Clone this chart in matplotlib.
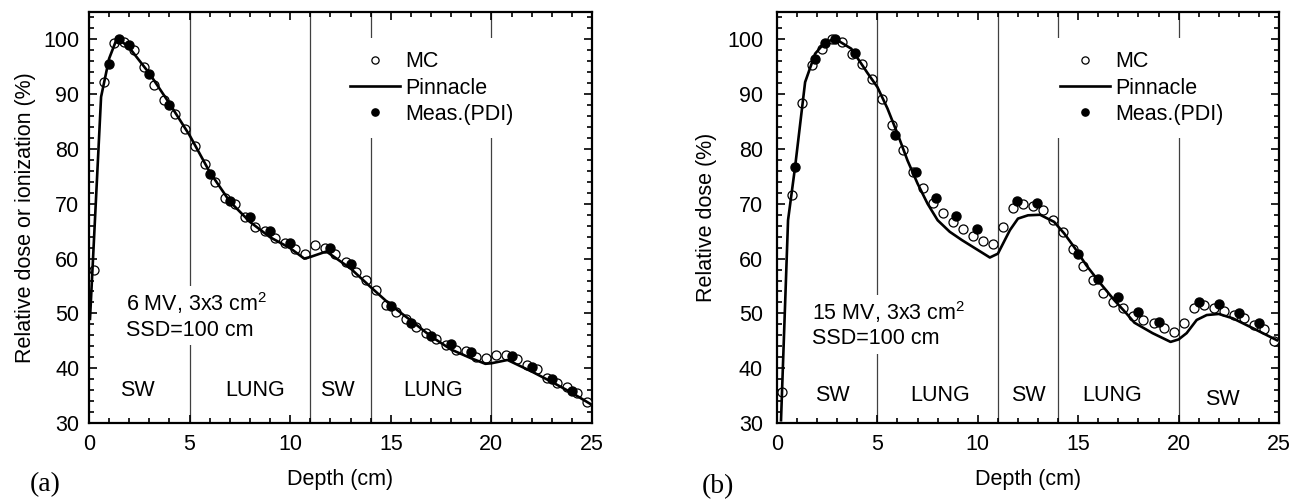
import matplotlib
matplotlib.use("Agg")
import matplotlib.pyplot as plt
from matplotlib.ticker import MultipleLocator

plt.rcParams['font.family'] = ['Liberation Sans', 'DejaVu Sans']
plt.rcParams['mathtext.fontset'] = 'custom'
plt.rcParams['mathtext.rm'] = 'Liberation Sans'
plt.rcParams['mathtext.it'] = 'Liberation Sans'

# ---------------- data: panel (a) 6 MV ----------------
mc_depth_a = [0.25, 0.75, 1.25, 1.75, 2.25, 2.75, 3.25, 3.75, 4.25, 4.75,
              5.25, 5.75, 6.25, 6.75, 7.25, 7.75, 8.25, 8.75, 9.25, 9.75,
              10.25, 10.75, 11.25, 11.75, 12.25, 12.75, 13.25, 13.75, 14.25, 14.75,
              15.25, 15.75, 16.25, 16.75, 17.25, 17.75, 18.25, 18.75, 19.25, 19.75,
              20.25, 20.75, 21.25, 21.75, 22.25, 22.75, 23.25, 23.75, 24.25, 24.75]
mc_dose_a = [58.0, 92.2, 99.4, 99.6, 98.0, 95.0, 91.6, 88.9, 86.3, 83.7,
             80.5, 77.3, 74.0, 71.1, 69.9, 67.6, 65.7, 65.1, 63.7, 62.8,
             61.8, 60.9, 62.4, 62.0, 60.9, 59.4, 57.6, 56.1, 54.2, 51.6,
             50.3, 49.0, 47.6, 46.4, 45.4, 44.3, 43.4, 43.1, 42.1, 41.8,
             42.4, 42.4, 41.6, 40.6, 39.8, 38.3, 37.3, 36.6, 35.4, 33.9]

pin_depth_a = [0.05, 0.2, 0.6, 1.0, 1.4, 2.0, 3.0, 4.0, 5.0, 6.0, 7.0, 8.0, 9.0,
               10.0, 10.7, 11.0, 11.8, 13.0, 14.0, 15.0, 16.0, 17.0, 18.0, 19.0,
               19.7, 20.0, 20.8, 22.0, 23.0, 24.0, 25.0]
pin_dose_a = [49.0, 60.0, 89.5, 96.5, 100.3, 98.5, 93.8, 88.3, 82.5, 75.8, 70.4,
              66.7, 63.9, 61.9, 60.0, 60.3, 61.3, 58.2, 54.8, 51.5, 48.7, 45.8,
              43.4, 41.8, 40.8, 40.9, 41.5, 39.4, 37.5, 35.5, 33.3]

meas_depth_a = [1, 1.5, 2, 3, 4, 6, 7, 8, 9, 10, 12, 13, 15, 16, 17, 18, 19,
                21, 22, 23, 24]
meas_dose_a = [95.6, 100.1, 98.9, 93.7, 88.0, 75.5, 70.6, 67.5, 65.0, 62.9,
               62.0, 59.0, 51.3, 48.2, 45.9, 44.4, 42.9, 42.2, 40.3, 38.0, 35.9]

# ---------------- data: panel (b) 15 MV ----------------
mc_depth_b = mc_depth_a
mc_dose_b = [35.7, 71.6, 88.4, 95.3, 98.3, 100.1, 99.5, 97.4, 95.6, 92.7,
             89.1, 84.3, 79.8, 75.8, 72.8, 70.2, 68.4, 66.7, 65.4, 64.1,
             63.2, 62.6, 65.8, 69.3, 69.9, 69.6, 68.8, 67.1, 64.9, 61.7,
             58.6, 56.1, 53.8, 52.1, 50.9, 49.6, 48.8, 48.3, 47.3, 46.6,
             48.3, 50.9, 51.5, 50.9, 50.4, 49.7, 49.1, 47.9, 47.1, 44.9]

pin_depth_b = [0.2, 0.55, 0.9, 1.4, 1.9, 2.4, 2.9, 3.7, 4.5, 5.0, 5.5, 6.0, 6.5,
               7.0, 7.5, 8.0, 8.6, 9.2, 9.9, 10.6, 11.0, 11.6, 12.0, 12.5, 13.1,
               13.8, 14.3, 14.8, 15.4, 16.1, 16.8, 17.4, 17.8, 18.7, 19.6, 20.0,
               20.4, 20.9, 21.4, 22.0, 22.7, 23.7, 24.9]
pin_dose_b = [30.5, 67.0, 76.7, 92.2, 97.4, 99.5, 100.1, 98.3, 93.9, 91.3, 87.4,
              82.8, 77.9, 73.7, 70.0, 67.0, 64.9, 63.4, 61.8, 60.2, 60.9, 65.2,
              67.3, 67.9, 68.0, 66.7, 64.6, 62.1, 58.8, 55.5, 52.4, 50.0, 48.3,
              46.4, 44.8, 45.25, 46.4, 48.8, 49.7, 49.9, 49.1, 47.3, 45.1]

meas_depth_b = [0.9, 1.9, 2.4, 2.9, 3.9, 5.9, 6.9, 7.9, 8.9, 9.95, 11.95, 12.95,
                15, 16, 17, 18, 19, 21, 22, 23, 24]
meas_dose_b = [76.7, 96.5, 99.3, 100.0, 97.5, 82.6, 75.8, 71.0, 67.7, 65.4, 70.5,
               70.2, 60.8, 56.2, 53.0, 50.3, 48.5, 52.0, 51.7, 50.1, 48.3]

boundaries = [5, 11, 14, 20]
labels_a = ["SW", "LUNG", "SW", "LUNG"]
label_x_a = [2.4, 8.25, 12.35, 17.1]
label_y_a = [36.0, 36.0, 36.0, 36.0]
labels_b = ["SW", "LUNG", "SW", "LUNG", "SW"]
label_x_b = [2.75, 8.1, 12.5, 16.7, 22.2]
label_y_b = [35.1, 35.1, 35.1, 35.1, 34.2]

FS = 15.5

fig = plt.figure(figsize=(12.95, 5.01), dpi=100)
ax_a = fig.add_axes([89/1295, 1-423/501, 503/1295, 411/501])
ax_b = fig.add_axes([777/1295, 1-423/501, 502/1295, 411/501])


def draw(ax, mcx, mcy, px, py, mx, my, lx, ly, labs, note, note_xy, ylabel,
         ypad, ylabpad, leg_anchor):
    for b in boundaries:
        ax.axvline(b, color='0.25', lw=0.9, zorder=1)
    ax.plot(mcx, mcy, 'o', mfc='white', mec='black', mew=0.9, ms=6.5,
            label='MC', zorder=3)
    ax.plot(px, py, '-', color='black', lw=1.9, label='Pinnacle', zorder=4)
    ax.plot(mx, my, 'o', mfc='black', mec='black', ms=6.5,
            label='Meas.(PDI)', zorder=5)
    for t, x, y in zip(labs, lx, ly):
        ax.text(x, y, t, ha='center', va='center', fontsize=FS, zorder=6)
    ax.text(note_xy[0], note_xy[1], note, ha='left', va='center', fontsize=FS,
            zorder=6, bbox=dict(facecolor='white', edgecolor='none', pad=3))
    ax.set_xlim(0, 25)
    ax.set_ylim(30, 105)
    ax.xaxis.set_major_locator(MultipleLocator(5))
    ax.xaxis.set_minor_locator(MultipleLocator(1))
    ax.yaxis.set_major_locator(MultipleLocator(10))
    ax.yaxis.set_minor_locator(MultipleLocator(2))
    ax.tick_params(which='both', direction='in', top=True, right=True,
                   labelsize=FS, width=1.2)
    ax.tick_params(which='major', length=6)
    ax.tick_params(which='minor', length=3.5)
    ax.tick_params(axis='x', which='major', pad=8)
    ax.tick_params(axis='y', which='major', pad=ypad)
    ax.set_yticks([30, 40, 50, 60, 70, 80, 90, 100])
    for s in ax.spines.values():
        s.set_linewidth(1.6)
    ax.set_xlabel('Depth (cm)', fontsize=FS, labelpad=10)
    ax.set_ylabel(ylabel, fontsize=FS, labelpad=ylabpad)
    leg = ax.legend(loc='upper left', bbox_to_anchor=leg_anchor, fontsize=FS,
                    frameon=True, fancybox=False, facecolor='white',
                    edgecolor='none', framealpha=1, borderpad=0.6,
                    handlelength=2.3, handletextpad=0.25, labelspacing=0.25,
                    borderaxespad=0, markerscale=0.8)
    leg.set_zorder(7)


draw(ax_a, mc_depth_a, mc_dose_a, pin_depth_a, pin_dose_a, meas_depth_a,
     meas_dose_a, label_x_a, label_y_a, labels_a,
     "6 MV, 3x3 cm$^2$\nSSD=100 cm", (1.84, 49.6),
     'Relative dose or ionization (%)', 7, 5, (0.494, 0.936))
draw(ax_b, mc_depth_b, mc_dose_b, pin_depth_b, pin_dose_b, meas_depth_b,
     meas_dose_b, label_x_b, label_y_b, labels_b,
     "15 MV, 3x3 cm$^2$\nSSD=100 cm", (1.74, 48.0),
     'Relative dose (%)', 10, 7, (0.539, 0.936))

fig.text(45/1295, 1-485/501, '(a)', family='Liberation Serif', fontsize=20,
         ha='center', va='center')
fig.text(718/1295, 1-487/501, '(b)', family='Liberation Serif', fontsize=20,
         ha='center', va='center')

fig.savefig('out.png', dpi=100)
